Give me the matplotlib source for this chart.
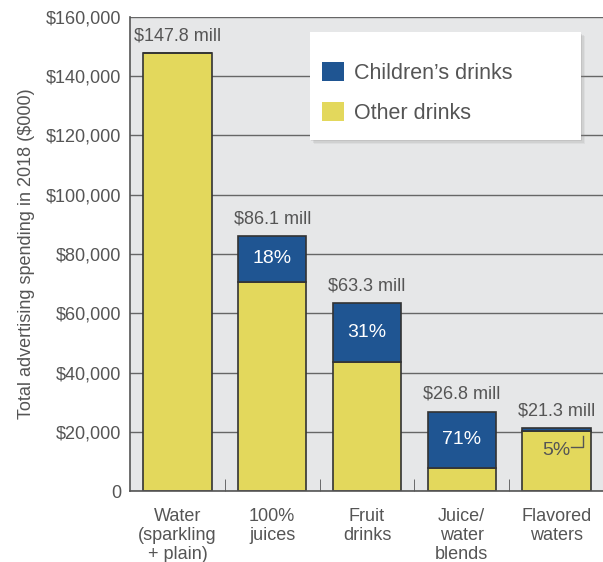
import matplotlib.pyplot as plt
from matplotlib.patches import Rectangle
import numpy as np

# drink categories and totals ($000)
categories = ["Water\n(sparkling\n+ plain)", "100%\njuices", "Fruit\ndrinks",
              "Juice/\nwater\nblends", "Flavored\nwaters"]
totals = [147800, 86100, 63300, 26800, 21300]
child_pct = [0, 18, 31, 71, 5]
total_labels = ["$147.8 mill", "$86.1 mill", "$63.3 mill", "$26.8 mill", "$21.3 mill"]
yticks = [0, 20000, 40000, 60000, 80000, 100000, 120000, 140000, 160000]
ytick_labels = ["0", "$20,000", "$40,000", "$60,000", "$80,000", "$100,000",
                "$120,000", "$140,000", "$160,000"]

YELLOW = "#e3d85c"
BLUE = "#1f5592"
BG = "#e6e7e8"
TXT = "#555555"
EDGE = "#333333"

plt.rcParams['font.family'] = ['Liberation Sans', 'DejaVu Sans']

totals = np.array(totals, dtype=float)
children = totals * np.array(child_pct) / 100.0
other = totals - children
x = np.arange(len(categories))

fig = plt.figure(figsize=(6.03, 5.62), dpi=100)
ax = fig.add_axes([0.2156, 0.1263, 0.7844, 0.8435])
ax.set_facecolor(BG)

ax.set_axisbelow(True)
ax.yaxis.grid(True, color="#666666", linewidth=1.0)

w = 0.72
ax.bar(x, other, width=w, color=YELLOW, edgecolor=EDGE, linewidth=1.2,
       label="Other drinks")
ax.bar(x, children, bottom=other, width=w, color=BLUE, edgecolor=EDGE,
       linewidth=1.2, label="Children\u2019s drinks")

for i in range(len(x)):
    ax.text(x[i], totals[i] + 3000, total_labels[i], ha="center", va="bottom",
            fontsize=13, color=TXT)

# percentage labels inside the blue segments
for i in (1, 2, 3):
    ax.text(x[i], other[i] + children[i] / 2, f"{child_pct[i]}%", ha="center",
            va="center", fontsize=14, color="white")

# flavored waters: the blue sliver is too thin, label sits below with an elbow
i = 4
ax.text(x[i], other[i] - 6400, f"{child_pct[i]}%", ha="center",
        va="center", fontsize=14, color=TXT)
ax.plot([x[i] + 0.15, x[i] + 0.274, x[i] + 0.274],
        [other[i] - 5400, other[i] - 5400, other[i] - 1700],
        color=TXT, linewidth=1.0)

ax.set_ylim(0, 160000)
ax.set_xlim(-0.5, 4.49)
ax.set_yticks(yticks)
ax.set_yticklabels(ytick_labels)
ax.set_xticks(x)
ax.set_xticklabels(categories, linespacing=1.15)
ax.set_xticks(x[:-1] + 0.5, minor=True)
ax.tick_params(axis="x", which="major", length=0, pad=12, labelsize=13, labelcolor=TXT)
ax.tick_params(axis="x", which="minor", length=9, direction="in", color="#555555")
ax.tick_params(axis="y", length=0, pad=6, labelsize=13, labelcolor=TXT)

for side in ("top", "right"):
    ax.spines[side].set_visible(False)
ax.spines["left"].set_color("#555555")
ax.spines["bottom"].set_color("#555555")
ax.spines["left"].set_linewidth(1.2)
ax.spines["bottom"].set_linewidth(1.2)

ax.set_ylabel("Total advertising spending in 2018 ($000)", fontsize=13,
              color=TXT, labelpad=8)

# legend panel: white box with a soft drop shadow
bx0, by0, bw, bh = 0.3805, 0.7405, 0.573, 0.2275
for k, a in enumerate([0.10, 0.14, 0.18]):
    off = 0.008 - 0.0025 * k
    ax.add_patch(Rectangle((bx0 + off, by0 - off * 1.0), bw, bh, transform=ax.transAxes,
                           facecolor="#888888", alpha=a, edgecolor="none", zorder=4))
ax.add_patch(Rectangle((bx0, by0), bw, bh, transform=ax.transAxes,
                       facecolor="white", edgecolor="none", zorder=5))

handles, labels = ax.get_legend_handles_labels()
leg = ax.legend(handles[::-1], labels[::-1], loc="upper left",
                bbox_to_anchor=(0.406, 0.906), frameon=False,
                fontsize=15.5, labelcolor=TXT, borderpad=0, labelspacing=0.85,
                handlelength=1.0, handleheight=1.0, handletextpad=0.5,
                borderaxespad=0)
leg.set_zorder(6)
for h in leg.legend_handles:
    h.set_edgecolor("none")

plt.savefig("out.png", dpi=100)
